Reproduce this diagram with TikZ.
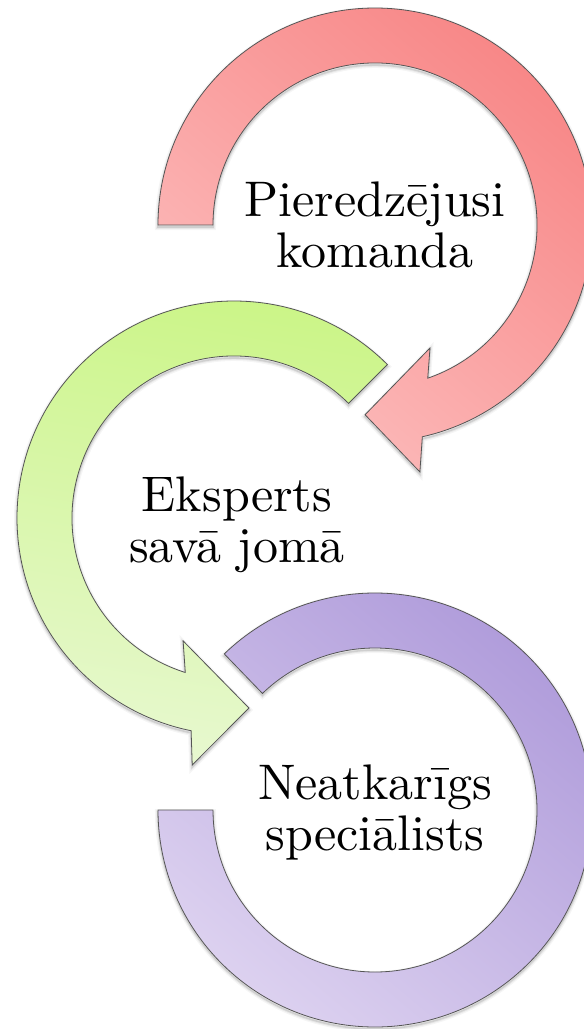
\documentclass[tikz,border=0pt]{standalone}
\usepackage{fontspec}
\setmainfont{lmroman10-regular}[Extension=.otf]
\definecolor{redA}{RGB}{248,136,136}
\definecolor{redB}{RGB}{252,190,190}
\definecolor{greenA}{RGB}{203,245,135}
\definecolor{greenB}{RGB}{231,248,207}
\definecolor{purA}{RGB}{174,154,218}
\definecolor{purB}{RGB}{221,210,240}
\definecolor{edgegray}{RGB}{85,85,85}
\newcommand\shapeRed{(180:217) arc[start angle=180,end angle=-77.4,radius=217] -- (-79.7:251) -- (-93:190) -- (-65.9:134.7) -- (-71:162) arc[start angle=-71,end angle=180,radius=162] -- cycle}
\newcommand\shapeGreen{(45:217) arc[start angle=45,end angle=258.6,radius=217] -- (260.4:250.5) -- (274.5:190.6) -- (247.5:133) -- (252.5:162) arc[start angle=252.5,end angle=45,radius=162] -- cycle}
\newcommand\shapePurple{(134:217) arc[start angle=134,end angle=-180,radius=217] -- (-180:162) arc[start angle=-180,end angle=134,radius=162] -- cycle}
\tikzset{
  x=1pt, y=1pt,
  ringedge/.style={draw=edgegray, line width=0.8pt, line join=miter},
  redring/.style={ringedge, top color=redA, bottom color=redB, shading angle=-40},
  greenring/.style={ringedge, top color=greenA, bottom color=greenB, shading angle=-10},
  purring/.style={ringedge, top color=purA, bottom color=purB, shading angle=-40},
  lbl/.style={align=center, inner sep=0pt, text=black, font=\fontsize{50}{51}\selectfont}
}
\newcommand\softglow[1]{%
  \foreach \w/\o in {6/0.04,3.5/0.06,1.6/0.1}{\draw[line width=\w pt, black, draw opacity=\o] #1;}%
}
\begin{document}
\begin{tikzpicture}
\useasboundingbox (0,0) rectangle (584,-1029);
\clip (0,0) rectangle (584,-1029);
% shadows
\begin{scope}[shift={(375,-812)}]\softglow{\shapePurple}\end{scope}
\begin{scope}[shift={(234,-520)}]\softglow{\shapeGreen}\end{scope}
\begin{scope}[shift={(375,-227)}]\softglow{\shapeRed}\end{scope}
% rings
\begin{scope}[shift={(375,-810)}]\path[purring] \shapePurple;\end{scope}
\begin{scope}[shift={(234,-518)}]\path[greenring] \shapeGreen;\end{scope}
\begin{scope}[shift={(375,-225)}]\path[redring] \shapeRed;\end{scope}
% labels
\node[lbl] (t1) at (375,-225) {Pieredzējusi\\komanda};
\node[lbl] (t2) at (237,-525) {Eksperts\\savā jomā};
\node[lbl] (t3) at (375,-812) {Neatkarīgs\\speciālists};
\end{tikzpicture}
\end{document}
